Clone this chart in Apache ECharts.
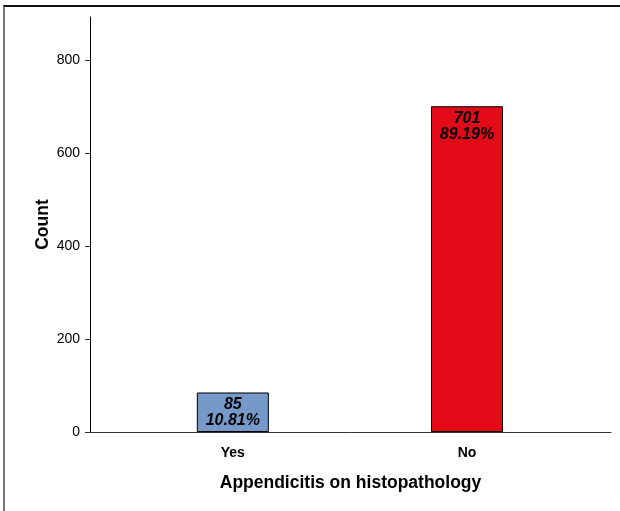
<!DOCTYPE html>
<html>
<head>
<meta charset="utf-8">
<script src="https://cdn.jsdelivr.net/npm/echarts@6/dist/echarts.min.js"></script>
<style>
html,body{margin:0;padding:0;background:#fff;}
#frame{position:absolute;left:3px;top:5px;width:617px;height:506px;border-top:2px solid #111;border-left:2px solid #777;box-sizing:border-box;}
#chart{position:absolute;left:0;top:0;width:620px;height:511px;}
</style>
</head>
<body>
<div id="frame"></div>
<div id="chart"></div>
<script>
const categories = ['Yes', 'No'];
const counts = [85, 701];
const percents = ['10.81%', '89.19%'];
const colors = ['#7599c9', '#e30a17'];
const yTicks = [0, 200, 400, 600, 800];

const font = 'Arial, "Liberation Sans", sans-serif';
const chart = echarts.init(document.getElementById('chart'), null, {renderer: 'canvas'});
const data = categories.map((c, i) => ({
  value: [i + 1, counts[i]],
  itemStyle: {color: colors[i]},
  label: {formatter: counts[i] + '\n' + percents[i]}
}));
chart.setOption({
  animation: false,
  backgroundColor: 'transparent',
  grid: {left: 90, right: 9, top: 17, bottom: 79, containLabel: false},
  xAxis: {
    type: 'value', min: 0.39, max: 2.615,
    splitLine: {show: false},
    axisLine: {show: true, lineStyle: {color: '#333', width: 1}},
    axisTick: {show: false},
    axisLabel: {
      customValues: [1, 2],
      formatter: v => categories[Math.round(v) - 1],
      color: '#000', fontFamily: font, fontWeight: 'bold', fontSize: 14, margin: 14
    },
    name: 'Appendicitis on histopathology',
    nameLocation: 'middle', nameGap: 42, nameMoveOverlap: false,
    nameTextStyle: {color: '#000', fontFamily: font, fontWeight: 'bold', fontSize: 17.5}
  },
  yAxis: {
    type: 'value', min: 0, max: 893,
    splitLine: {show: false},
    axisLine: {show: true, lineStyle: {color: '#000', width: 1}},
    axisTick: {show: true, inside: false, length: 5, customValues: yTicks, lineStyle: {color: '#333'}},
    axisLabel: {customValues: yTicks, color: '#000', fontFamily: font, fontSize: 14, margin: 10},
    name: 'Count',
    nameLocation: 'middle', nameGap: 38, nameMoveOverlap: false,
    nameTextStyle: {color: '#000', fontFamily: font, fontWeight: 'bold', fontSize: 17.5}
  },
  series: [{
    type: 'bar',
    barWidth: 72,
    data: data,
    itemStyle: {borderColor: '#000', borderWidth: 1},
    label: {
      show: true, position: 'insideTop', distance: 4,
      color: '#000', fontFamily: font, fontWeight: 'bold', fontStyle: 'italic',
      fontSize: 16, lineHeight: 16
    }
  }]
});
</script>
</body>
</html>
